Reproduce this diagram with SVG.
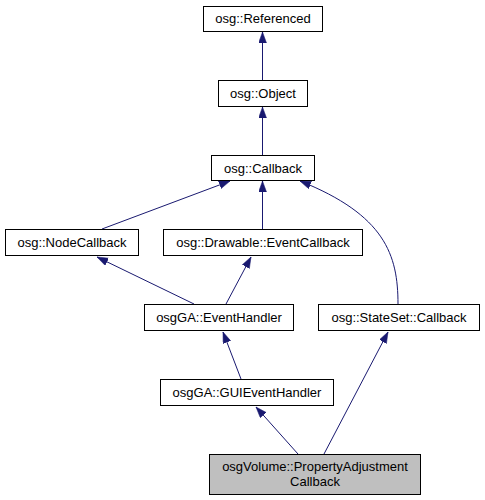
<svg xmlns="http://www.w3.org/2000/svg" width="485" height="500" viewBox="0 0 485 500">
<style>
.n rect{fill:#fff;stroke:#000;stroke-width:1}
.n.h rect{fill:#bfbfbf}
.n text{font-family:"Liberation Sans",Arial,sans-serif;font-size:13px;text-anchor:middle;fill:#000}
.e path{fill:none;stroke:#191970;stroke-width:1;marker-end:url(#a)}
</style>
<defs>
<marker id="a" markerUnits="userSpaceOnUse" markerWidth="12" markerHeight="10" refX="11" refY="4" orient="auto">
<path d="M0,0 L11,4 L0,8 z" fill="#191970" stroke="#191970" stroke-width="0.5"/>
</marker>
</defs>
<rect width="485" height="500" fill="#fff"/>
<g id="edges" class="e">
<path d="M262.5,80 L262.5,32"/>
<path d="M262.5,155 L262.5,107"/>
<path d="M102,229 L230,181"/>
<path d="M262.5,229 L262.5,181"/>
<path d="M398,304 C398,255 385,215 300,181"/>
<path d="M194,304 L97,257"/>
<path d="M226,304 L251,257"/>
<path d="M241,379 L223,332"/>
<path d="M298,454 L256,407"/>
<path d="M324,454 L388,332"/>
</g>
<g id="referenced" class="n"><rect x="203.5" y="6.5" width="119" height="25"/><text x="263" y="23">osg::Referenced</text></g>
<g id="object" class="n"><rect x="218.5" y="80.5" width="89" height="26"/><text x="263" y="98">osg::Object</text></g>
<g id="callback" class="n"><rect x="211.5" y="155.5" width="103" height="25"/><text x="263" y="172.5">osg::Callback</text></g>
<g id="nodecallback" class="n"><rect x="5.5" y="229.5" width="133" height="26"/><text x="72" y="247">osg::NodeCallback</text></g>
<g id="drawableeventcallback" class="n"><rect x="163.5" y="229.5" width="199" height="26"/><text x="263" y="247">osg::Drawable::EventCallback</text></g>
<g id="eventhandler" class="n"><rect x="144.5" y="304.5" width="149" height="26"/><text x="219" y="322">osgGA::EventHandler</text></g>
<g id="statesetcallback" class="n"><rect x="318.5" y="304.5" width="161" height="26"/><text x="399" y="322">osg::StateSet::Callback</text></g>
<g id="guieventhandler" class="n"><rect x="160.5" y="379.5" width="173" height="26"/><text x="247" y="397">osgGA::GUIEventHandler</text></g>
<g id="propertyadjustmentcallback" class="n h"><rect x="209.5" y="454.5" width="211" height="40"/><text x="315" y="471">osgVolume::PropertyAdjustment</text><text x="315" y="486">Callback</text></g>
</svg>
